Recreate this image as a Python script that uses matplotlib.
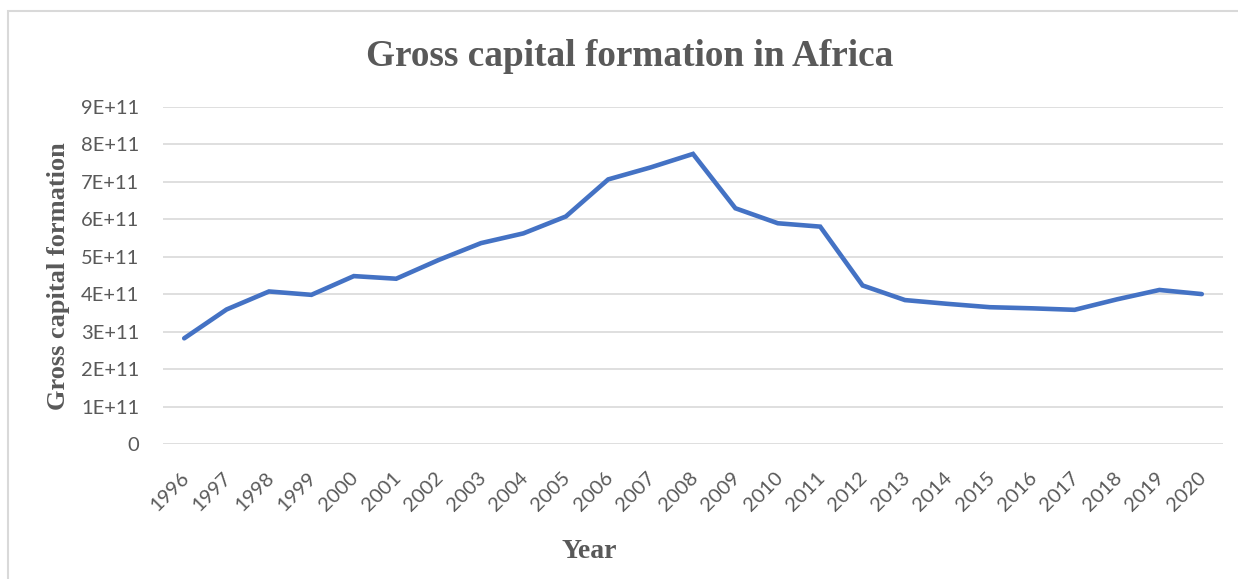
import matplotlib.pyplot as plt
from matplotlib.patches import Rectangle
from matplotlib.transforms import ScaledTranslation

# Gross capital formation, Africa (current US$)
years = [str(y) for y in range(1996, 2021)]
gcf = [2.82e11, 3.59e11, 4.07e11, 3.98e11, 4.48e11, 4.41e11, 4.91e11, 5.36e11,
       5.62e11, 6.07e11, 7.06e11, 7.38e11, 7.74e11, 6.29e11, 5.89e11, 5.80e11,
       4.23e11, 3.84e11, 3.74e11, 3.65e11, 3.62e11, 3.58e11, 3.86e11, 4.11e11,
       4.00e11]
y_ticks = [i * 1e11 for i in range(10)]
y_tick_labels = ["0"] + [f"{i}E+11" for i in range(1, 10)]

text_grey = "#595959"
serif = ["Liberation Serif", "DejaVu Serif"]

fig = plt.figure(figsize=(12.38, 5.79), dpi=100)
ax = fig.add_axes([163 / 1238, 135 / 579, 1060 / 1238, 337.3 / 579])

x = list(range(len(years)))
ax.plot(x, gcf, color="#4472C4", linewidth=3.3, solid_joinstyle="miter",
        solid_capstyle="round", zorder=3)

ax.set_xlim(-0.5, len(years) - 0.5)
ax.set_ylim(0, 9e11)
ax.set_yticks(y_ticks)
ax.set_yticklabels(y_tick_labels, fontfamily="Lato", fontsize=14.5, color=text_grey)
ax.set_xticks(x)
ax.set_xticklabels(years, rotation=45, ha="right", rotation_mode="anchor",
                   fontfamily="Lato", fontsize=14.5, color=text_grey)
ax.tick_params(axis="y", length=0, pad=17)
ax.tick_params(axis="x", length=0, pad=18)
# nudge the slanted year labels a little to the left
nudge = ScaledTranslation(-4 / 100, 0, fig.dpi_scale_trans)
for lbl in ax.get_xticklabels():
    lbl.set_transform(lbl.get_transform() + nudge)
ax.grid(axis="y", color="#D9D9D9", linewidth=1.2)
ax.set_axisbelow(True)
for side in ax.spines.values():
    side.set_visible(False)

fig.text(630 / 1238, 1 - 57 / 579, "Gross capital formation in Africa",
         ha="center", va="center", fontfamily=serif, fontweight="bold",
         fontsize=26.8, color=text_grey)
fig.text(59 / 1238, 1 - 276 / 579, "Gross capital formation", rotation=90,
         ha="center", va="center", fontfamily=serif, fontweight="bold",
         fontsize=19, color=text_grey)
fig.text(589 / 1238, 1 - 552 / 579, "Year", ha="center", va="center",
         fontfamily=serif, fontweight="bold", fontsize=20, color=text_grey)

# light frame round the chart area
fig.patches.append(Rectangle((8 / 1238, -0.05), 1.2, 1 - 11 / 579 + 0.05,
                             transform=fig.transFigure, fill=False,
                             edgecolor="#D9D9D9", linewidth=1.5))

fig.savefig("out.png", dpi=100)
